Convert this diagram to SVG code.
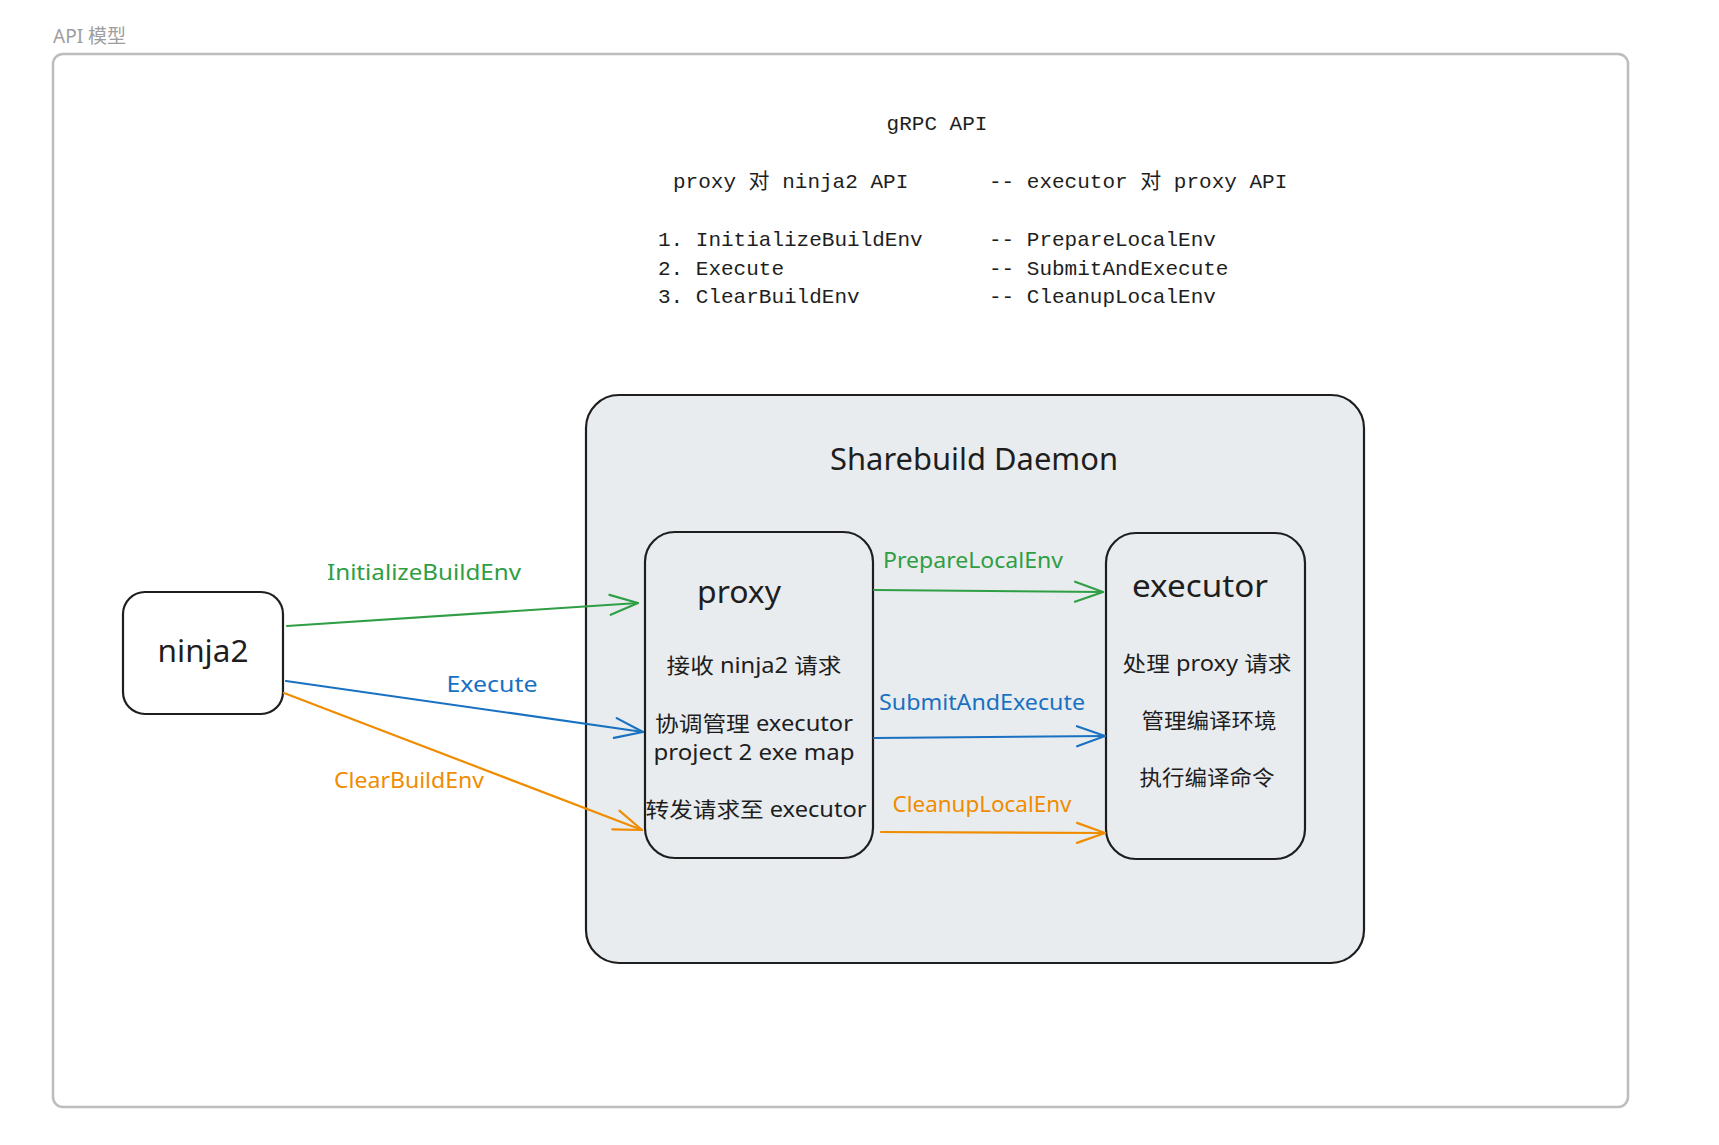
<svg xmlns="http://www.w3.org/2000/svg" width="1719" height="1145" viewBox="0 0 1719 1145">
<style>
.hand{font-family:"Noto Sans","Noto Sans CJK SC",sans-serif;fill:#1e1e1e}
.mono{font-family:"Liberation Mono","Noto Sans CJK SC",monospace;font-size:21px;fill:#1e1e1e}
.node{fill:#ffffff;stroke:#1e1e1e;stroke-width:2.2}
.inner{fill:#e9ecef;stroke:#1e1e1e;stroke-width:2.2}
.c{text-anchor:middle}
.g{fill:#2f9e44}.b{fill:#1971c2}.o{fill:#f08c00}
.lbl{font-size:21px}
.sub{font-size:21px}
.big{font-size:31px}
</style>
<defs>
<marker id="ag" markerUnits="userSpaceOnUse" markerWidth="40" markerHeight="30" viewBox="-32 -15 40 30" refX="0" refY="0" orient="auto" overflow="visible"><path d="M-28,-10 L0,0 L-28,10" fill="none" stroke="#2f9e44" stroke-width="2.2" stroke-linecap="round" stroke-linejoin="round"/></marker>
<marker id="ab" markerUnits="userSpaceOnUse" markerWidth="40" markerHeight="30" viewBox="-32 -15 40 30" refX="0" refY="0" orient="auto" overflow="visible"><path d="M-28,-10 L0,0 L-28,10" fill="none" stroke="#1971c2" stroke-width="2.2" stroke-linecap="round" stroke-linejoin="round"/></marker>
<marker id="ao" markerUnits="userSpaceOnUse" markerWidth="40" markerHeight="30" viewBox="-32 -15 40 30" refX="0" refY="0" orient="auto" overflow="visible"><path d="M-28,-10 L0,0 L-28,10" fill="none" stroke="#f08c00" stroke-width="2.2" stroke-linecap="round" stroke-linejoin="round"/></marker>
</defs>
<rect width="1719" height="1145" fill="#ffffff"/>
<g id="frame">
<text x="53" y="43" font-family="'Noto Sans','Noto Sans CJK SC',sans-serif" font-size="19" fill="#9e9e9e">API 模型</text>
<rect x="53" y="54" width="1575" height="1053" rx="10" fill="#ffffff" stroke="#bdbdbd" stroke-width="2.5"/>
</g>
<g id="header">
<text class="mono c" x="937" y="130">gRPC API</text>
<text class="mono" x="673" y="188">proxy 对 ninja2 API</text>
<text class="mono" x="989" y="188">-- executor 对 proxy API</text>
<text class="mono" x="658" y="246">1. InitializeBuildEnv</text>
<text class="mono" x="989" y="246">-- PrepareLocalEnv</text>
<text class="mono" x="658" y="275">2. Execute</text>
<text class="mono" x="989" y="275">-- SubmitAndExecute</text>
<text class="mono" x="658" y="303">3. ClearBuildEnv</text>
<text class="mono" x="989" y="303">-- CleanupLocalEnv</text>
</g>
<g id="daemon">
<rect class="inner" x="586" y="395" width="778" height="568" rx="33"/>
<text class="hand c" x="974" y="470" font-size="30" textLength="288" lengthAdjust="spacingAndGlyphs">Sharebuild Daemon</text>
</g>
<g id="ninja2">
<rect class="node" x="123" y="592" width="160" height="122" rx="22"/>
<text class="hand c big" x="203" y="662" textLength="91" lengthAdjust="spacingAndGlyphs">ninja2</text>
</g>
<g id="proxy">
<rect class="inner" x="645" y="532" width="228" height="326" rx="30"/>
<text class="hand c big" x="739" y="603" textLength="84" lengthAdjust="spacingAndGlyphs">proxy</text>
<text class="hand c sub" x="754" y="673" textLength="175" lengthAdjust="spacingAndGlyphs">接收 ninja2 请求</text>
<text class="hand c sub" x="754" y="731" textLength="198" lengthAdjust="spacingAndGlyphs">协调管理 executor</text>
<text class="hand c sub" x="754" y="760" textLength="201" lengthAdjust="spacingAndGlyphs">project 2 exe map</text>
<text class="hand c sub" x="756" y="817" textLength="221" lengthAdjust="spacingAndGlyphs">转发请求至 executor</text>
</g>
<g id="executor">
<rect class="inner" x="1106" y="533" width="199" height="326" rx="30"/>
<text class="hand c big" x="1200" y="597" textLength="136" lengthAdjust="spacingAndGlyphs">executor</text>
<text class="hand c sub" x="1207" y="671" textLength="169" lengthAdjust="spacingAndGlyphs">处理 proxy 请求</text>
<text class="hand c sub" x="1209" y="728" textLength="135" lengthAdjust="spacingAndGlyphs">管理编译环境</text>
<text class="hand c sub" x="1207" y="785" textLength="135" lengthAdjust="spacingAndGlyphs">执行编译命令</text>
</g>
<g id="connectors" fill="none" stroke-width="2.2" stroke-linecap="round">
<path d="M287,626 L638,603" stroke="#2f9e44" marker-end="url(#ag)"/>
<path d="M286,681 L643,732" stroke="#1971c2" marker-end="url(#ab)"/>
<path d="M284,693 L642,830" stroke="#f08c00" marker-end="url(#ao)"/>
<path d="M874,590 L1103,592" stroke="#2f9e44" marker-end="url(#ag)"/>
<path d="M874,738 L1105,736" stroke="#1971c2" marker-end="url(#ab)"/>
<path d="M881,832 L1105,833" stroke="#f08c00" marker-end="url(#ao)"/>
</g>
<g id="labels">
<text class="hand c lbl g" x="424" y="580" textLength="194" lengthAdjust="spacingAndGlyphs">InitializeBuildEnv</text>
<text class="hand c lbl b" x="492" y="692" textLength="91" lengthAdjust="spacingAndGlyphs">Execute</text>
<text class="hand c lbl o" x="409" y="788" textLength="150" lengthAdjust="spacingAndGlyphs">ClearBuildEnv</text>
<text class="hand c lbl g" x="973" y="568" textLength="180" lengthAdjust="spacingAndGlyphs">PrepareLocalEnv</text>
<text class="hand c lbl b" x="982" y="710" textLength="206" lengthAdjust="spacingAndGlyphs">SubmitAndExecute</text>
<text class="hand c lbl o" x="982" y="812" textLength="179" lengthAdjust="spacingAndGlyphs">CleanupLocalEnv</text>
</g>
</svg>
